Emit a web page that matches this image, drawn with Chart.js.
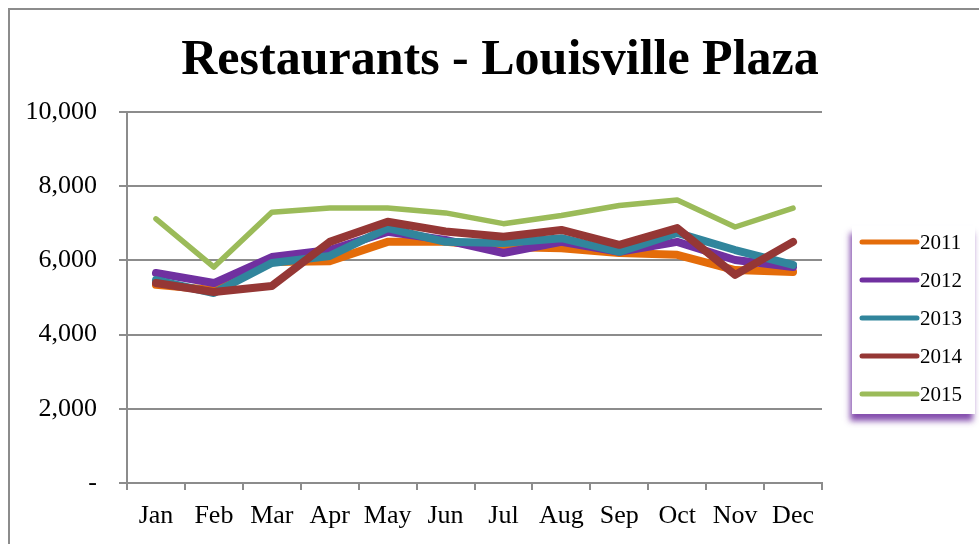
<!DOCTYPE html>
<html>
<head>
<meta charset="utf-8">
<script src="https://cdn.jsdelivr.net/npm/chart.js@4/dist/chart.umd.min.js"></script>
<style>
  html, body { margin: 0; padding: 0; background: #fff; }
  #wrap { position: relative; width: 979px; height: 544px; overflow: hidden; }
</style>
</head>
<body>
<div id="wrap"><canvas id="chart" width="979" height="544"></canvas></div>
<script>
const months = ['Jan', 'Feb', 'Mar', 'Apr', 'May', 'Jun', 'Jul', 'Aug', 'Sep', 'Oct', 'Nov', 'Dec'];
const years = ['2011', '2012', '2013', '2014', '2015'];

const sales2011 = [5340, 5200, 5960, 5980, 6500, 6500, 6360, 6330, 6200, 6150, 5740, 5690];
const sales2012 = [5660, 5390, 6090, 6280, 6770, 6550, 6200, 6500, 6230, 6500, 6010, 5820];
const sales2013 = [5470, 5120, 5930, 6120, 6870, 6500, 6470, 6600, 6230, 6740, 6280, 5880];
const sales2014 = [5390, 5150, 5310, 6500, 7040, 6780, 6640, 6820, 6420, 6870, 5610, 6500];
const sales2015 = [7120, 5820, 7300, 7410, 7410, 7280, 6990, 7210, 7480, 7630, 6900, 7410];

const yTicks = [0, 2000, 4000, 6000, 8000, 10000];

const colors = ['#E46C0A', '#7030A0', '#31859C', '#953735', '#9BBB59'];
const widths = [8, 8, 8, 8, 5.5];
const series = [sales2011, sales2012, sales2013, sales2014, sales2015];

const gridGray = '#8c8c8c';
const serif = "'Liberation Serif', 'DejaVu Serif', serif";

// frame, title and the boxed legend on the right
const decor = {
  id: 'decor',
  beforeDraw(chart) {
    const ctx = chart.ctx;
    ctx.save();
    ctx.strokeStyle = gridGray;
    ctx.lineWidth = 2;
    ctx.beginPath();
    ctx.moveTo(9, 544);
    ctx.lineTo(9, 9);
    ctx.lineTo(979, 9);
    ctx.stroke();

    ctx.fillStyle = '#000';
    ctx.font = 'bold 50px ' + serif;
    ctx.textAlign = 'center';
    ctx.textBaseline = 'alphabetic';
    ctx.fillText('Restaurants - Louisville Plaza', 500, 74);
    ctx.restore();
  },
  afterDraw(chart) {
    const ctx = chart.ctx;
    const bx = 852, by = 226, bw = 123, bh = 188;
    ctx.save();
    ctx.shadowColor = 'rgba(112, 48, 160, 0.85)';
    ctx.shadowBlur = 6;
    ctx.shadowOffsetX = -2;
    ctx.shadowOffsetY = 7;
    ctx.fillStyle = '#fff';
    ctx.fillRect(bx, by, bw, bh);
    ctx.restore();

    ctx.save();
    chart.data.datasets.forEach((ds, i) => {
      const y = 242 + i * 38;
      ctx.strokeStyle = ds.borderColor;
      ctx.lineWidth = 5;
      ctx.lineCap = 'round';
      ctx.beginPath();
      ctx.moveTo(862, y);
      ctx.lineTo(917, y);
      ctx.stroke();
      ctx.fillStyle = '#000';
      ctx.font = '21px ' + serif;
      ctx.textAlign = 'left';
      ctx.textBaseline = 'middle';
      ctx.fillText(ds.label, 920, y + 1);
    });
    ctx.restore();
  }
};

new Chart(document.getElementById('chart'), {
  type: 'line',
  data: {
    labels: months,
    datasets: years.map((yr, i) => ({
      label: yr,
      data: series[i],
      borderColor: colors[i],
      backgroundColor: colors[i],
      borderWidth: widths[i],
      borderJoinStyle: 'round',
      borderCapStyle: 'round',
      pointRadius: 0,
      tension: 0,
      order: 5 - i
    }))
  },
  options: {
    responsive: false,
    animation: false,
    layout: { padding: { top: 112, right: 157, bottom: 0, left: 0 } },
    plugins: {
      legend: { display: false },
      tooltip: { enabled: false }
    },
    scales: {
      x: {
        offset: true,
        grid: { offset: true, drawOnChartArea: false, color: gridGray, lineWidth: 2, tickLength: 7 },
        border: { color: gridGray, width: 2 },
        ticks: { color: '#000', font: { family: serif, size: 26 }, padding: 11, maxRotation: 0 },
        afterFit(scale) { scale.height = 61; }
      },
      y: {
        min: 0,
        max: 10000,
        afterBuildTicks(scale) { scale.ticks = yTicks.map(v => ({ value: v })); },
        grid: { color: gridGray, lineWidth: 2, tickLength: 8 },
        border: { color: gridGray, width: 2 },
        ticks: {
          color: '#000',
          font: { family: serif, size: 26 },
          padding: 22,
          callback: v => v === 0 ? '-' : v.toLocaleString('en-US')
        },
        afterFit(scale) { scale.width = 127; }
      }
    }
  },
  plugins: [decor]
});
</script>
</body>
</html>
